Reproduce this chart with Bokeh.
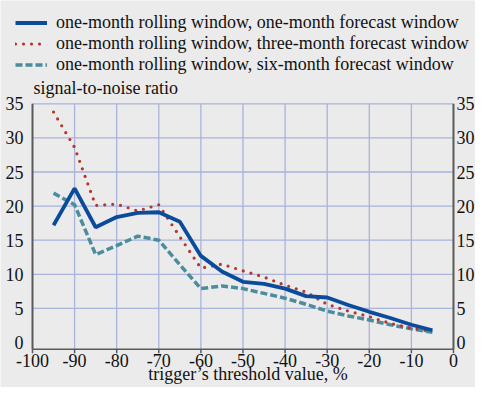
from bokeh.plotting import figure
from bokeh.models import Legend, LegendItem, Range1d, Label
from bokeh.core.properties import value
from bokeh.embed import file_html
from bokeh.resources import INLINE

# ---- data ----
thresholds = [-95, -90, -85, -80, -75, -70, -65, -60, -55, -50,
              -45, -40, -35, -30, -25, -20, -15, -10, -5]
one_month_fw = [17.2, 22.6, 16.9, 18.4, 19.0, 19.1, 17.7, 12.7, 10.4, 8.9,
                8.6, 7.9, 6.8, 6.6, 5.5, 4.5, 3.6, 2.6, 1.8]
three_month_fw = [33.8, 28.6, 20.1, 20.3, 19.3, 20.2, 15.5, 10.9, 11.5, 10.5,
                  9.6, 8.4, 7.4, 5.6, 4.6, 3.8, 2.8, 2.1, 1.6]
six_month_fw = [21.9, 20.2, 12.9, 14.2, 15.6, 15.0, 11.4, 7.9, 8.3, 7.9,
                7.2, 6.5, 5.6, 4.6, 3.9, 3.3, 2.6, 2.0, 1.5]

series_names = [
    "one-month rolling window, one-month forecast window",
    "one-month rolling window, three-month forecast window",
    "one-month rolling window, six-month forecast window",
]
x_ticks = [-100, -90, -80, -70, -60, -50, -40, -30, -20, -10, 0]
x_tick_labels = ["-100", "-90", "-80", "-70", "-60", "-50", "-40", "-30", "-20", "-10", "0"]
y_ticks = [0, 5, 10, 15, 20, 25, 30, 35]
y_tick_labels = ["0", "5", "10", "15", "20", "25", "30", "35"]
y_title = "signal-to-noise ratio"
x_title = "trigger\u2019s threshold value, %"

# ---- styling ----
BG = "#ebebeb"
GRID = "#a9b3dc"
AXIS = "#5a5a5a"
TXT = "#111111"
FONT = "'Liberation Serif'"
FS = "18px"
BLUE = "#0a4b9b"
RED = "#b5352b"
TEAL = "#4b8c9d"

X_MIN, X_MAX = x_ticks[0], x_ticks[-1]
Y_TOP = y_ticks[-1]
AXIS_Y = -1.0          # x-axis line sits a little below the 0 gridline
TICK_LEN = 0.59        # tick mark length (about 4 px)
TICK_LABEL_Y = -2.64
X_TITLE_Y = -4.69
UNIT_Y = 37.29

p = figure(width=475, height=387,
           x_range=Range1d(-107.6, 5.23), y_range=Range1d(-6.598, 50.15),
           output_backend="svg", toolbar_location=None, title_location=None,
           x_axis_location=None, y_axis_location=None,
           min_border_left=0, min_border_right=0,
           min_border_top=0, min_border_bottom=0,
           background_fill_color=BG, border_fill_color=BG,
           outline_line_color=None)
p.xgrid.visible = False
p.ygrid.visible = False

# grid lines, bounded to the plotting box
inner_x = x_ticks[1:-1]
p.segment(x0=inner_x, x1=inner_x, y0=[AXIS_Y] * len(inner_x), y1=[Y_TOP] * len(inner_x),
          line_color=GRID, line_width=1.3)
grid_y = y_ticks[1:]
p.segment(x0=[X_MIN] * len(grid_y), x1=[X_MAX] * len(grid_y), y0=grid_y, y1=grid_y,
          line_color=GRID, line_width=1.3)

# bottom axis: line, ticks, labels
p.segment(x0=[X_MIN], x1=[X_MAX], y0=[AXIS_Y], y1=[AXIS_Y], line_color=AXIS, line_width=1.5)
p.segment(x0=x_ticks, x1=x_ticks, y0=[AXIS_Y] * len(x_ticks),
          y1=[AXIS_Y - TICK_LEN] * len(x_ticks), line_color=AXIS, line_width=1.5)
p.text(x=x_ticks, y=[TICK_LABEL_Y] * len(x_ticks), text=x_tick_labels,
       text_font=value(FONT), text_font_size=value(FS), text_color=TXT,
       text_align="center", text_baseline="middle")

# left and right axes: lines and labels
for xa_pos, off, align in ((X_MIN, -9, "right"), (X_MAX, 3, "left")):
    p.segment(x0=[xa_pos], x1=[xa_pos], y0=[AXIS_Y], y1=[Y_TOP],
              line_color=AXIS, line_width=2)
    p.text(x=[xa_pos] * len(y_ticks), y=y_ticks, text=y_tick_labels, x_offset=off,
           text_font=value(FONT), text_font_size=value(FS), text_color=TXT,
           text_align=align, text_baseline="middle")

# series
r3 = p.line(thresholds, six_month_fw, line_color=TEAL, line_width=3.5, line_dash="7 3")
r2 = p.line(thresholds, three_month_fw, line_color=RED, line_width=3.2,
            line_dash="0 8", line_cap="round")
r1 = p.line(thresholds, one_month_fw, line_color=BLUE, line_width=3.8)

legend = Legend(items=[LegendItem(label=series_names[0], renderers=[r1]),
                       LegendItem(label=series_names[1], renderers=[r2]),
                       LegendItem(label=series_names[2], renderers=[r3])],
                location=(15, 312), orientation="vertical",
                padding=0, margin=0, spacing=0,
                label_height=21, glyph_height=21, glyph_width=32, label_standoff=9,
                border_line_color=None, background_fill_alpha=0,
                label_text_font=FONT, label_text_font_size=FS,
                label_text_color=TXT)
p.add_layout(legend, "center")

p.add_layout(Label(x=X_MIN, y=UNIT_Y, x_offset=1, text=y_title,
                   text_font=FONT, text_font_size=FS, text_color=TXT,
                   text_baseline="middle", text_align="left"))
p.add_layout(Label(x=(X_MIN + X_MAX) / 2, y=X_TITLE_Y, x_offset=5, text=x_title,
                   text_font=FONT, text_font_size=FS, text_color=TXT,
                   text_baseline="middle", text_align="center"))

open("out.html", "w").write(file_html(p, INLINE))
